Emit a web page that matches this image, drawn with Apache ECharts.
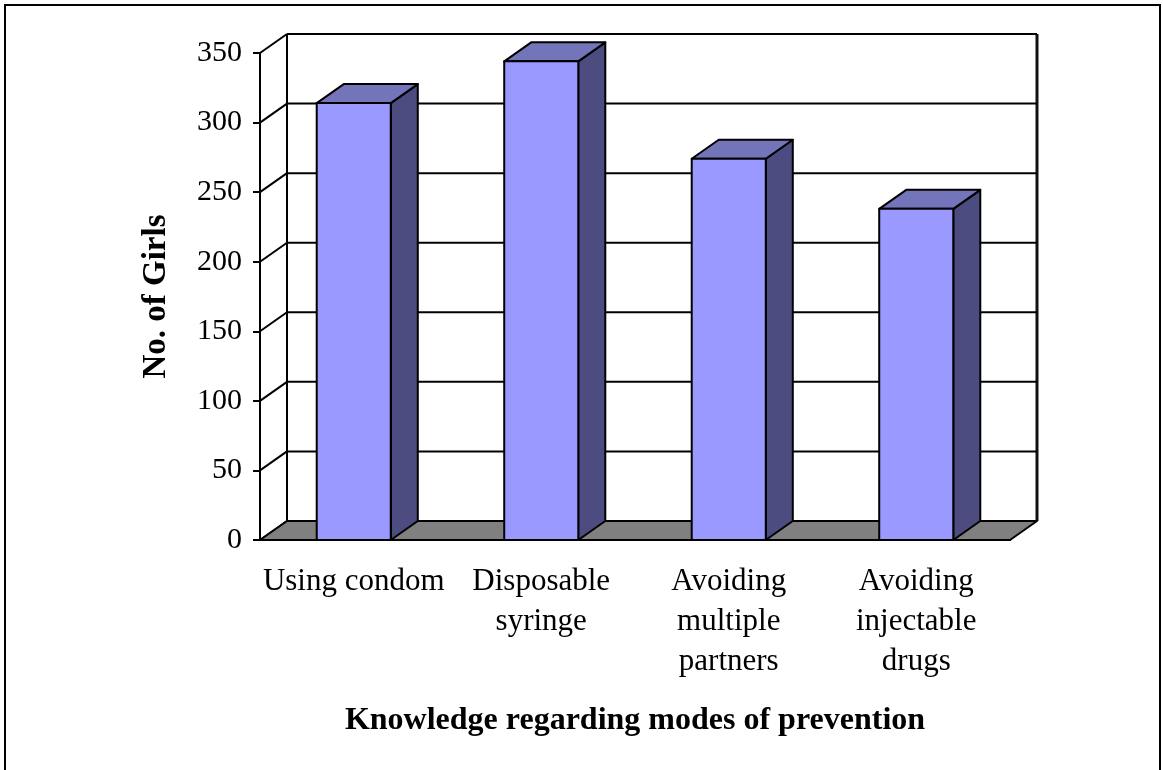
<!DOCTYPE html>
<html>
<head>
<meta charset="utf-8">
<script src="https://cdn.jsdelivr.net/npm/echarts@6/dist/echarts.min.js"></script>
<style>
html, body { margin: 0; padding: 0; background: #fff; }
#chart { width: 1163px; height: 770px; }
</style>
</head>
<body>
<div id="chart"></div>
<script>
// data
const categories = ['Using condom', 'Disposable\nsyringe', 'Avoiding\nmultiple\npartners', 'Avoiding\ninjectable\ndrugs']
const girls = [314, 344, 274, 238]
const yTicks = [0, 50, 100, 150, 200, 250, 300, 350]

// depth of the fake 3d box, in pixels
const DX = 27, DY = -19
const serif = "'Liberation Serif', 'Times New Roman', serif"

function wallItem(params, api) {
    let cs = params.coordSys
    let x0 = cs.x, x1 = cs.x + cs.width
    let v = api.value(1)
    let y = api.coord([0, v])[1]
    let st = { stroke: '#000', lineWidth: 2 }
    let kids = [
        { type: 'line', shape: { x1: x0 + DX, y1: y + DY, x2: x1 + DX, y2: y + DY }, style: st },
        { type: 'line', shape: { x1: x0, y1: y, x2: x0 + DX, y2: y + DY }, style: st }
    ]
    if (params.dataIndex === 0) {
        let yTop = api.coord([0, yTicks[yTicks.length - 1]])[1]
        kids.push({ type: 'line', shape: { x1: x0 + DX, y1: y + DY, x2: x0 + DX, y2: yTop + DY }, style: st })
        kids.push({ type: 'line', shape: { x1: x1 + DX, y1: y + DY, x2: x1 + DX, y2: yTop + DY }, style: { stroke: '#111', lineWidth: 3 } })
    }
    return { type: 'group', children: kids }
}

function floorItem(params, api) {
    let cs = params.coordSys
    let x0 = cs.x, x1 = cs.x + cs.width
    let y = api.coord([0, 0])[1]
    return {
        type: 'polygon',
        shape: { points: [[x0, y], [x1, y], [x1 + DX, y + DY], [x0 + DX, y + DY]] },
        style: { fill: '#808080', stroke: '#000', lineWidth: 2, lineJoin: 'round' }
    }
}

function barItem(params, api) {
    let top = api.coord([api.value(0), api.value(1)])
    let bottom = api.coord([api.value(0), 0])
    let w = api.size([1, 0])[0] * 0.395
    let l = top[0] - w / 2, r = top[0] + w / 2
    let t = top[1], b = bottom[1]
    let st = { stroke: '#000', lineWidth: 2, lineJoin: 'round' }
    return {
        type: 'group',
        children: [
            { type: 'polygon', shape: { points: [[r, b], [r + DX, b + DY], [r + DX, t + DY], [r, t]] }, style: Object.assign({ fill: '#4c4c80' }, st) },
            { type: 'polygon', shape: { points: [[l, t], [r, t], [r + DX, t + DY], [l + DX, t + DY]] }, style: Object.assign({ fill: '#7474ba' }, st) },
            { type: 'rect', shape: { x: l, y: t, width: w, height: b - t }, style: Object.assign({ fill: '#9999ff' }, st) }
        ]
    }
}

let option = {
    animation: false,
    graphic: [
        { type: 'rect', shape: { x: 5, y: 5, width: 1155, height: 820 }, style: { fill: 'none', stroke: '#000', lineWidth: 2 }, z: 100 }
    ],
    grid: { left: 260, right: 153, top: 53, bottom: 230 },
    xAxis: {
        type: 'category',
        data: categories,
        name: 'Knowledge regarding modes of prevention',
        nameLocation: 'middle',
        nameGap: 165,
        nameTextStyle: { fontFamily: serif, fontSize: 32, fontWeight: 'bold', color: '#000' },
        axisLine: { lineStyle: { color: '#000', width: 2 } },
        axisTick: { length: 10, lineStyle: { color: '#000', width: 2 } },
        axisLabel: { interval: 0, fontFamily: serif, fontSize: 31, lineHeight: 40, color: '#000', margin: 22 },
        splitLine: { show: false }
    },
    yAxis: {
        type: 'value',
        min: 0,
        max: 350,
        interval: 50,
        name: 'No. of Girls',
        nameLocation: 'middle',
        nameRotate: 90,
        nameGap: 87,
        nameTextStyle: { fontFamily: serif, fontSize: 33, fontWeight: 'bold', color: '#000' },
        axisLine: { show: true, lineStyle: { color: '#000', width: 2 } },
        axisTick: { show: true, length: 7, lineStyle: { color: '#000', width: 2 } },
        axisLabel: { fontFamily: serif, fontSize: 30, color: '#000', margin: 18 },
        splitLine: { show: false }
    },
    series: [
        { type: 'custom', name: 'wall', renderItem: wallItem, data: yTicks.map(v => [0, v]), clip: false, z: 1, silent: true },
        { type: 'custom', name: 'floor', renderItem: floorItem, data: [[0, 0]], clip: false, z: 2, silent: true },
        { type: 'custom', name: 'No. of Girls', renderItem: barItem, data: girls.map((v, i) => [i, v]), clip: false, z: 3 }
    ]
}

let chart = echarts.init(document.getElementById('chart'))
chart.setOption(option)
window.addEventListener('resize', () => {
    chart.resize()
})
</script>
</body>
</html>
